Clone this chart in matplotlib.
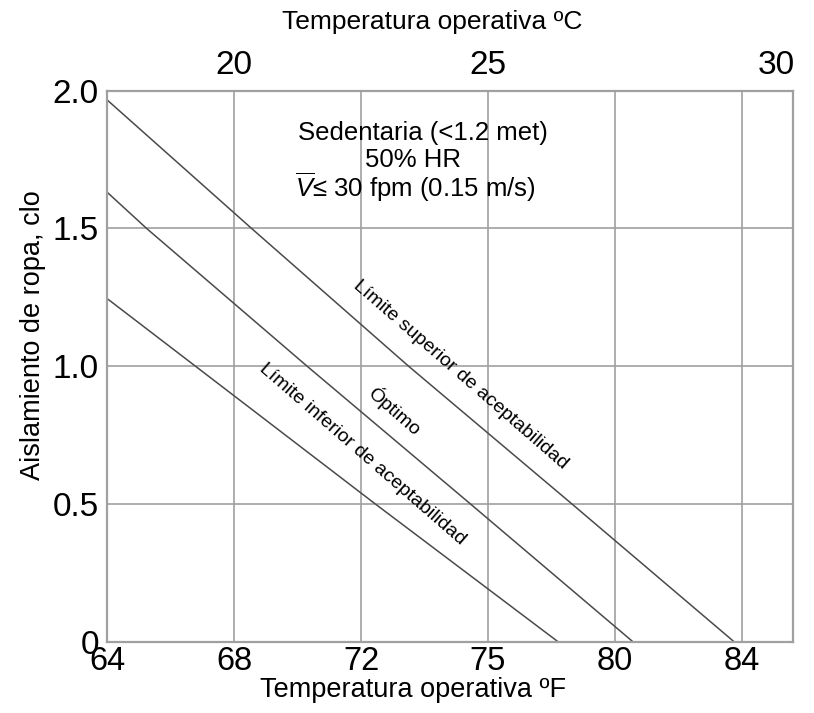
import numpy as np
import matplotlib.pyplot as plt

plt.rcParams['font.family'] = ['Liberation Sans', 'DejaVu Sans']
plt.rcParams['mathtext.fontset'] = 'custom'
plt.rcParams['mathtext.rm'] = 'Liberation Sans'
plt.rcParams['mathtext.it'] = 'Liberation Sans:italic'

# curvas (temperatura ºF, aislamiento clo)
sup_f = [64, 68.55, 73.5, 78.65, 83.76]
sup_clo = [1.966, 1.5, 1.0, 0.5, 0.0]
opt_f = [64, 65.24, 70.3, 75.45, 80.57]
opt_clo = [1.631, 1.5, 1.0, 0.5, 0.0]
inf_f = [64, 66.78, 72.45, 78.21]
inf_clo = [1.245, 1.0, 0.5, 0.0]

# ejes
f_ticks = [64, 68, 72, 76, 80, 84]
f_labels = ['64', '68', '72', '75', '80', '84']
c_ticks = [68, 76, 85.1]
c_labels = ['20', '25', '30']
clo_ticks = [0, 0.5, 1.0, 1.5, 2.0]
clo_labels = ['0', '0.5', '1.0', '1.5', '2.0']

cuadro = ['Sedentaria (<1.2 met)', '50% HR', r'$\overline{V}$≤ 30 fpm (0.15 m/s)']

gris = '#a0a0a0'
linea = '#4a4a4a'

fig = plt.figure(figsize=(8.14, 7.13), dpi=100)
ax = fig.add_axes([0.1318, 0.1, 0.8424, 0.7728])

ax.plot(sup_f, sup_clo, color=linea, lw=1.1)
ax.plot(opt_f, opt_clo, color=linea, lw=1.1)
ax.plot(inf_f, inf_clo, color=linea, lw=1.1)

ax.set_xlim(64, 85.62)
ax.set_ylim(0, 2.0)
ax.set_xticks(f_ticks)
ax.set_xticklabels(f_labels, fontsize=23.5)
ax.set_yticks(clo_ticks)
ax.set_yticklabels(clo_labels, fontsize=24, va='center_baseline')
ax.tick_params(axis='x', length=0, pad=3)
ax.tick_params(axis='y', length=0, pad=6)
ax.grid(True, color=gris, lw=1.2)
for s in ax.spines.values():
    s.set_color(gris)
    s.set_linewidth(1.6)

# eje superior en ºC
ax2 = ax.twiny()
ax2.set_xlim(ax.get_xlim())
ax2.set_xticks(c_ticks)
ax2.set_xticklabels(c_labels, fontsize=24)
ax2.tick_params(axis='x', length=0, pad=7)
for s in ax2.spines.values():
    s.set_visible(False)

fig.text(432/814, 1-22/713, 'Temperatura operativa ºC', fontsize=19,
         ha='center', va='center')
fig.text(413/814, 1-690/713, 'Temperatura operativa ºF', fontsize=19.5,
         ha='center', va='center')
fig.text(33/814, 1-335/713, 'Aislamiento de ropa, clo', fontsize=19.5,
         rotation=90, ha='center', va='center')

# texto del cuadro
ax.text(73.95, 1.846, cuadro[0], fontsize=18.5, ha='center', va='center')
ax.text(73.65, 1.748, cuadro[1], fontsize=18.5, ha='center', va='center')
ax.text(73.7, 1.65, cuadro[2], fontsize=18.5, ha='center', va='center')

# etiquetas de las curvas
ax.text(75.15, 0.968, 'Límite superior de aceptabilidad', fontsize=14, rotation=-41,
        rotation_mode='anchor', ha='center', va='center')
ax.text(73.07, 0.837, 'Óptimo', fontsize=14, rotation=-41,
        rotation_mode='anchor', ha='center', va='center')
ax.text(72.03, 0.681, 'Límite inferior de aceptabilidad', fontsize=14, rotation=-41,
        rotation_mode='anchor', ha='center', va='center')

fig.savefig('out.png', dpi=100)
